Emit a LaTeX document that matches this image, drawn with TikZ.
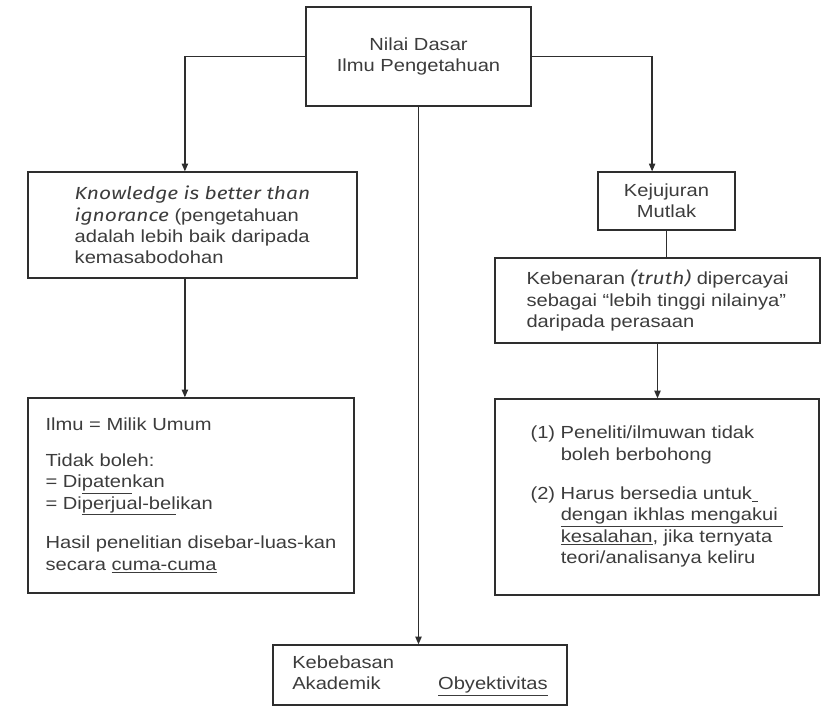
\documentclass[tikz,border=0pt]{standalone}
\usepackage{fontspec}
\setmainfont{Liberation Sans}[FakeStretch=1.15]
\newfontfamily\kfont{Fira Sans}[FakeStretch=1.2]
\newcommand{\istilah}[1]{{\kfont\itshape #1}}
\usetikzlibrary{arrows.meta}
\definecolor{tinta}{HTML}{3C3C3C}
\definecolor{garis}{HTML}{2E2E2E}

\begin{document}
\begin{tikzpicture}[kotak/.style = {draw = garis, line width = 0.9pt, text = tinta, align = left,
                    inner sep = 0pt, font = \fontsize{12.45}{15.2}\selectfont},
                    panah/.style = {draw = garis, line width = 0.9pt, -{Triangle[width=4.5pt,length=5.5pt]}}]
                \useasboundingbox (0,0) rectangle (20.55,17.725);

                \node [kotak, align = center, minimum width = 5.625cm, minimum height = 2.475cm]
                (dasar) at (10.4625,16.3125) {Nilai Dasar\\Ilmu Pengetahuan};

                \node [kotak, minimum width = 8.225cm, minimum height = 2.65cm] (tahu) at (4.8125,12.1)
                {\istilah{Knowledge is better than}\\ \istilah{ignorance} (pengetahuan\\
                adalah lebih baik daripada\\ kemasabodohan};

                \node [kotak, align = center, minimum width = 3.425cm, minimum height = 1.45cm]
                (jujur) at (16.6625,12.7) {Kejujuran\\Mutlak};

                \node [kotak, minimum width = 8.125cm, minimum height = 2.125cm] (benar) at (16.4375,10.2125)
                {Kebenaran \istilah{(truth)} dipercayai\\ sebagai “lebih tinggi nilainya”\\ daripada perasaan};

                \node [kotak, minimum width = 8.15cm, minimum height = 4.875cm] (milik) at (4.775,5.3375)
                {Ilmu = Milik Umum\\[0.36cm]
                Tidak boleh:\\ = Di\underline{paten}kan\\ = Di\underline{perjual-bel}ikan\\[0.46cm]
                Hasil penelitian disebar-luas-kan\\ secara \underline{cuma-cuma}};

                \node [kotak, minimum width = 8.1cm, minimum height = 4.9cm] (peneliti) at (16.425,5.3)
                {\begin{tabular}{@{}l@{ }l@{}}
                (1) & Peneliti/ilmuwan tidak\\
                    & boleh berbohong\\[0.45cm]
                (2) & Harus bersedia untuk\underline{\ }\\
                    & \underline{dengan ikhlas mengakui\ }\\
                    & \underline{kesalahan}, jika ternyata\\
                    & teori/analisanya keliru
                \end{tabular}};

                \node [kotak, minimum width = 7.35cm, minimum height = 1.5cm] (bebas) at (10.5,0.85)
                {\begin{tabular}{@{}l@{\hspace{1.1cm}}l@{}}
                Kebebasan & \\
                Akademik  & \underline{Obyektivitas}
                \end{tabular}};

                \draw [panah] (dasar.west) -| ([xshift=-0.19cm]tahu.north);
                \draw [panah] (dasar.east) -| ([xshift=-0.36cm]jujur.north);
                \draw [panah] (dasar.south) -- (dasar.south |- bebas.north);
                \draw [panah] ([xshift=-0.19cm]tahu.south) -- ([xshift=-0.19cm]tahu.south |- milik.north);
                \draw [draw = garis, line width = 0.9pt] (jujur.south) -- (jujur.south |- benar.north);
                \draw [panah] (benar.south) -- (benar.south |- peneliti.north);
            \end{tikzpicture}
\end{document}
